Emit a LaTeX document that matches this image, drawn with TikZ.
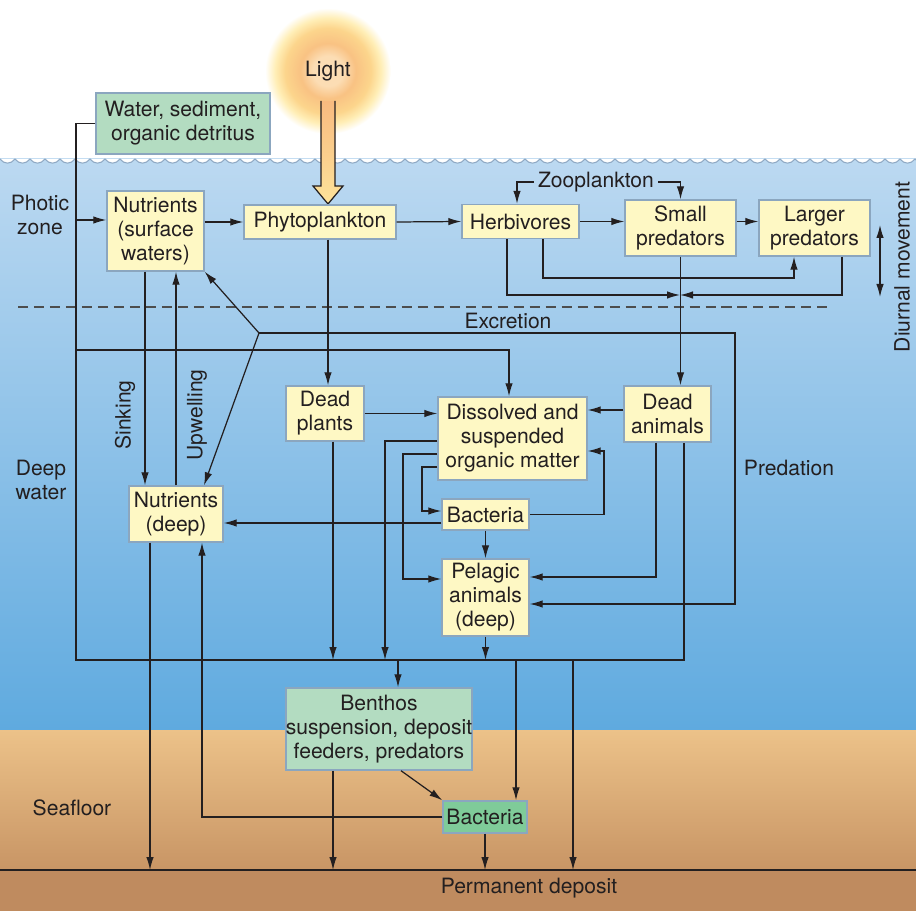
\documentclass[tikz,border=0pt]{standalone}
\usepackage{fontspec}
\setmainfont{TeX Gyre Heros}
\usetikzlibrary{arrows.meta}

\definecolor{ink}{HTML}{231F20}
\definecolor{boxfill}{HTML}{FEF8C4}
\definecolor{boxline}{HTML}{8BA6BF}
\definecolor{greenfill}{HTML}{B3DCC1}
\definecolor{darkgreen}{HTML}{7FCB99}
\definecolor{seatop}{HTML}{BCD9F1}
\definecolor{seabottom}{HTML}{5FAADF}
\definecolor{sandtop}{HTML}{ECC289}
\definecolor{sandbottom}{HTML}{C89565}
\definecolor{deposit}{HTML}{BF8B5F}
\definecolor{sunO}{HTML}{FCDDB4}
\definecolor{sunA}{HTML}{F9C283}
\definecolor{sunB}{HTML}{FCD58C}
\definecolor{sunC}{HTML}{FFEEB6}
\definecolor{lightA}{HTML}{F8BA7F}
\definecolor{lightB}{HTML}{FDE39A}
\definecolor{wave}{HTML}{8FA9C4}
\definecolor{dashgray}{HTML}{4D4D4D}

\pgfdeclareradialshading{sunglow}{\pgfpoint{0bp}{0bp}}{color(0bp)=(sunO); color(6bp)=(sunO); color(11bp)=(sunA); color(17bp)=(sunB); color(21bp)=(sunC); color(25bp)=(white); color(50bp)=(white)}

\tikzset{
    box/.style={draw=boxline, fill=boxfill, line width=0.8pt, align=center, inner sep=0pt},
    greenbox/.style={box, fill=greenfill},
    zonetext/.style={align=center, inner sep=1pt},
}

\begin{document}
\begin{tikzpicture}[x=0.02cm, y=-0.02cm, >={Latex[length=2.6mm,width=1.5mm]},
    line width=0.7pt, color=ink, every node/.style={font=\fontsize{12}{13.6}\selectfont}]
    \useasboundingbox (0,0) rectangle (916,911);

    % 1. Background: sky, sea, seafloor
    \fill[white] (0,0) rectangle (916,911);
    \shade[top color=seatop, bottom color=seabottom] (0,159) rectangle (916,730);
    \shade[top color=sandtop, bottom color=sandbottom] (0,730) rectangle (916,870);
    \fill[deposit] (0,870) rectangle (916,911);
    \draw[line width=0.8pt] (0,870) -- (916,870);
    \foreach \x in {0,15,...,915} {
        \fill[white] (\x,159) .. controls (\x+4,164.5) and (\x+11,164.5) .. (\x+15,159) -- cycle;
        \draw[wave, line width=0.6pt] (\x,159) .. controls (\x+4,164.5) and (\x+11,164.5) .. (\x+15,159);
    }
    \draw[dashgray, line width=0.8pt, dash pattern=on 5.7pt off 3.4pt] (18,307) -- (828,307);

    % 2. Sun and light
    \shade[shading=sunglow] (328,71) circle (1.26cm);
    \node (lighttxt) at (328,71) {Light};
    \shade[top color=lightA, bottom color=lightB]
        (321,101) -- (321,186) -- (313,186) -- (328,204) -- (343,186) -- (335,186) -- (335,101) -- cycle;
    \draw (321,101) -- (321,186) -- (313,186) -- (328,204) -- (343,186) -- (335,186) -- (335,101);

    % 3. Zone labels
    \node[zonetext] (photic) at (40,215) {Photic\\zone};
    \node[zonetext] (deepw) at (41,480) {Deep\\water};
    \node[zonetext] (seafl) at (72,808) {Seafloor};
    \node[zonetext] (permdep) at (529,888) {Permanent deposit};
    \node[zonetext, rotate=90] (sinktxt) at (125,415) {Sinking};
    \node[zonetext, rotate=90] (upwtxt) at (197,415) {Upwelling};
    \node[zonetext] (excr) at (508,321) {Excretion};
    \node[zonetext] (pred) at (789,468) {Predation};
    \node[zonetext, rotate=90] (diurnal) at (902,267) {Diurnal movement};
    \node[zonetext, inner sep=2pt] (zoo) at (596,182) {Zooplankton};

    % 4. Boxes
    \node[greenbox, minimum width=3.48cm, minimum height=1.22cm] (water) at (183,123.5) {Water, sediment,\\organic detritus};
    \node[box, minimum width=1.94cm, minimum height=1.6cm] (nsurf) at (155.5,231) {Nutrients\\(surface\\waters)};
    \node[box, minimum width=3.04cm, minimum height=0.68cm] (phyto) at (320,222) {Phytoplankton};
    \node[box, minimum width=2.34cm, minimum height=0.68cm] (herb) at (520.5,221.5) {Herbivores};
    \node[box, minimum width=2.22cm, minimum height=1.12cm] (smallp) at (680.5,228) {Small\\predators};
    \node[box, minimum width=2.22cm, minimum height=1.12cm] (largep) at (814.5,228) {Larger\\predators};
    \node[box, minimum width=1.56cm, minimum height=1.1cm] (deadp) at (325,413.5) {Dead\\plants};
    \node[box, minimum width=2.98cm, minimum height=1.66cm] (dissolved) at (512.5,438.5) {Dissolved and\\suspended\\organic matter};
    \node[box, minimum width=1.74cm, minimum height=1.12cm] (deada) at (667.5,414) {Dead\\animals};
    \node[box, minimum width=1.74cm, minimum height=0.62cm] (bact) at (485.5,514.5) {Bacteria};
    \node[box, minimum width=1.74cm, minimum height=1.54cm] (pelagic) at (485.5,597.5) {Pelagic\\animals\\(deep)};
    \node[box, minimum width=1.88cm, minimum height=1.12cm] (ndeep) at (176,514) {Nutrients\\(deep)};
    \node[greenbox, minimum width=3.6cm, minimum height=1.64cm] (benthos) at (379,729) {Benthos\\suspension, deposit\\feeders, predators};
    \node[box, fill=darkgreen, minimum width=1.68cm, minimum height=0.64cm] (bactb) at (485,817) {Bacteria};

    % 5. Junction points
    \coordinate (ltop) at (76,220);
    \coordinate (lmid) at (76,350);
    \coordinate (lcol) at (76,660);
    \coordinate (rcol) at (684,660);
    \coordinate (meet) at (680,295);
    \coordinate (jex) at (259,333);
    \coordinate (floor) at (0,870);
    \coordinate (dtop) at (880,225);
    \coordinate (dbot) at (880,297);

    % 6. Surface food chain
    \draw[->] (nsurf.east |- phyto) -- (phyto.west);
    \draw[->] (phyto.east) -- (herb.west);
    \draw[->] (herb.east) -- (smallp.west |- herb.east);
    \draw[->] (smallp.east |- herb) -- (largep.west |- herb);
    \draw[->] (zoo.west) -| (517,0 |- herb.north);
    \draw[->] (zoo.east) -| (smallp.north);
    \draw[->] (507,0 |- herb.south) |- (meet);
    \draw[->] (543,0 |- herb.south) -- (543,278) -| (794,0 |- largep.south);
    \draw[->] (842,0 |- largep.south) |- (meet);
    \draw[->] (smallp.south) -- (smallp.south |- deada.north);
    \draw[->] (328,0 |- phyto.south) -- (328,0 |- deadp.north);
    \draw[<->] (dtop) -- (dbot);

    % 7. Water, sediment and collector line
    \draw (water.west) -| (lcol) -- (rcol) -- (rcol |- deada.south);
    \draw[->] (ltop) -- (nsurf.west |- ltop);
    \draw[->] (lmid) -| (509,0 |- dissolved.north);

    % 8. Nutrients
    \draw[->] (145,0 |- nsurf.south) -- (145,0 |- ndeep.north);
    \draw[->] (176,0 |- ndeep.north) -- (176,0 |- nsurf.south);
    \draw[->] (jex) -- (nsurf.south east);
    \draw[->] (jex) -- (204,0 |- ndeep.north);
    \draw[->] (jex) -- (735,333) |- (pelagic.east |- 0,604);

    % 9. Deep water
    \draw[->] (deadp.east) -- (dissolved.west |- deadp.east);
    \draw[->] (deada.west |- 0,410) -- (dissolved.east |- 0,410);
    \draw[->] (dissolved.west |- 0,454) -- (403,454) |- (pelagic.west |- 0,579);
    \draw[->] (dissolved.west |- 0,467) -- (422,467) |- (bact.west |- 0,511);
    \draw[->] (bact.west |- 0,523) -- (ndeep.east |- 0,523);
    \draw[->] (bact.east) -- (604,0 |- bact.east) |- (dissolved.east |- 0,451);
    \draw[->] (bact.south) -- (pelagic.north);
    \draw[->] (656,0 |- deada.south) |- (pelagic.east |- 0,577);

    % 10. Down to the collector
    \draw[->] (333,0 |- deadp.south) -- (333,0 |- lcol);
    \draw[->] (dissolved.west |- 0,441) -| (385,0 |- lcol);
    \draw[->] (pelagic.south) -- (pelagic.south |- lcol);

    % 11. Seafloor
    \draw[->] (398,0 |- lcol) -- (398,0 |- benthos.north);
    \draw[->] (516,0 |- lcol) -- (516,0 |- bactb.north);
    \draw[->] (573,0 |- lcol) -- (573,0 |- floor);
    \draw[->] (150,0 |- ndeep.south) -- (150,0 |- floor);
    \draw[->] (bactb.west) -| (202,0 |- ndeep.south);
    \draw[->] (333,0 |- benthos.south) -- (333,0 |- floor);
    \draw[->] (401,0 |- benthos.south) -- (bactb.north west);
    \draw[->] (bactb.south) -- (bactb.south |- floor);
\end{tikzpicture}
\end{document}
